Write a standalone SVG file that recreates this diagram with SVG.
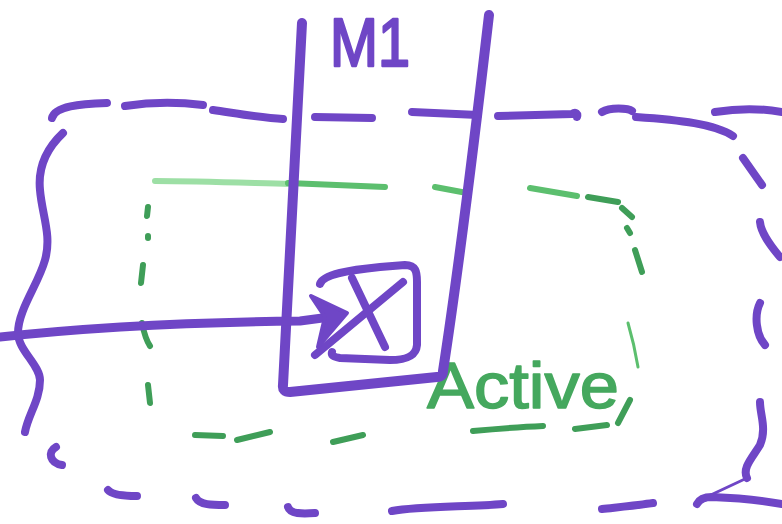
<svg xmlns="http://www.w3.org/2000/svg" width="782" height="524" viewBox="0 0 782 524">
<style>
.p{fill:none;stroke:#6f46c6;stroke-linecap:round;stroke-linejoin:round}
.pd{stroke-width:8}
.pl{stroke-width:10}
.pb{stroke-width:8}
.g{fill:none;stroke:#3f9e58;stroke-width:6;stroke-linecap:round;stroke-linejoin:round}
.gl{stroke:#9ddfa5}
.gm{stroke:#5cbf6e}
.lblp{font-family:"Liberation Sans",Arial,sans-serif;fill:#6f46c6;stroke:#6f46c6;stroke-width:2.5}
.lblg{font-family:"Liberation Sans",Arial,sans-serif;fill:#45a85e;stroke:#45a85e;stroke-width:1.5}
</style>
<rect width="782" height="524" fill="#ffffff"/>
<g id="outer-region" class="p pd">
<path d="M52,118 C55,106 80,104 107,103"/>
<path d="M125,106 C150,102 180,102 203,105"/>
<path d="M213,110 C240,114 262,118 283,119"/>
<path d="M315,117 L372,118"/>
<path d="M412,112 L478,115"/>
<path d="M498,116 L572,114 C576,111 578,114 577,117"/>
<path d="M602,112 C610,107 628,108 632,111"/>
<path d="M636,117 C680,120 715,124 733,136"/>
<path d="M715,112 C740,108 765,109 782,112"/>
<path d="M743,158 L762,185"/>
<path d="M760,222 C761,233 770,245 780,257"/>
<path d="M760,303 C754,315 756,335 765,345"/>
<path d="M760,402 C760,415 767,428 760,445 C752,458 742,468 747,478"/>
<path d="M747,478 L700,500" style="stroke-width:3"/>
<path d="M697,504 C700,498 706,497 712,497 C740,498 760,500 782,504"/>
<path d="M108,490 C112,495 125,496 137,496"/>
<path d="M196,498 C200,505 212,505 225,505"/>
<path d="M288,507 C290,514 302,514 315,513"/>
<path d="M392,511 C420,506 470,507 503,504"/>
<path d="M602,509 C620,507 640,505 653,503"/>
<path d="M63,133 C45,150 38,170 40,190 C42,215 52,235 45,260 C38,285 18,310 18,333 C18,350 40,365 40,380 C40,400 28,415 25,432"/>
<path d="M56,447 C47,452 50,463 62,465"/>
</g>
<g id="active-region" class="g">
<path class="gl" d="M155,181 C200,181 250,183 290,184"/>
<path class="gm" d="M288,183 L385,187"/>
<path class="gm" d="M435,187 L467,193"/>
<path class="gm" d="M530,188 L577,196"/>
<path d="M588,197 L618,202"/>
<path d="M622,208 L632,217"/>
<path d="M627,228 L630,233"/>
<path d="M635,250 L642,272"/>
<path class="gm" d="M628,323 C633,340 636,355 638,367" style="stroke-width:3"/>
<path d="M630,400 L618,423"/>
<path d="M607,425 L575,429"/>
<path d="M543,426 C520,427 495,429 473,431"/>
<path d="M363,435 L333,442"/>
<path d="M270,432 L237,440"/>
<path d="M223,436 L195,435"/>
<path d="M148,207 L147,216"/>
<path d="M148,236 L148,238"/>
<path d="M143,265 L141,283"/>
<path d="M142,323 C144,333 146,340 150,346"/>
<path d="M148,385 L150,403"/>
<text class="lblg" x="427" y="408" font-size="64" textLength="192" lengthAdjust="spacingAndGlyphs">Active</text>
</g>
<g id="lane-m1" class="p pl">
<path d="M302,23 C298,120 290,250 283,385 Q282,392 290,392 L437,377 Q443,377 443,371 C460,260 478,110 489,15"/>
<text class="lblp" x="330" y="66" font-size="68" textLength="80" lengthAdjust="spacingAndGlyphs">M1</text>
</g>
<g id="junction" class="p pb">
<path d="M320,284 C323,274 350,270 380,267 L405,265 C416,265 417,272 417,282 L417,345 C416,357 405,360 390,360 L340,358 C333,357 331,355 332,352"/>
<path d="M352,278 L385,347"/>
<path d="M403,282 L315,355"/>
</g>
<g id="connectors">
<path class="p" d="M0,337 C100,326 200,322 300,321 L330,317" style="stroke-width:9"/>
<path d="M311,296 L347,313 L318,347 L325,317 Z" fill="#6f46c6" stroke="#6f46c6" stroke-width="4" stroke-linejoin="round"/>
</g>
</svg>
